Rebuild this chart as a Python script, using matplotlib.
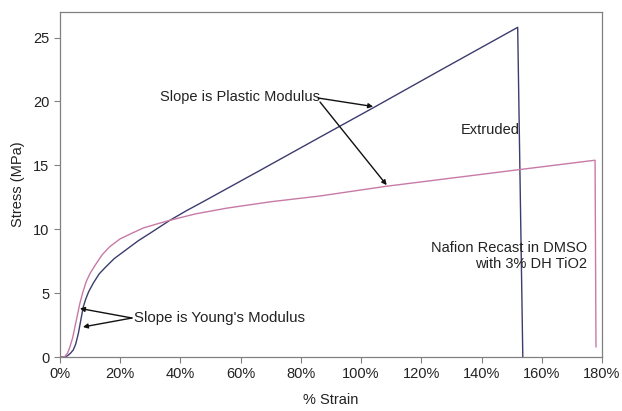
import matplotlib.pyplot as plt
from matplotlib.ticker import FuncFormatter

plt.rcParams['font.family'] = ['Liberation Sans', 'DejaVu Sans']

# strain in percent, stress in MPa
extruded_strain = [0, 1.5, 2.5, 3.5, 4.4, 5.2, 6.1, 7.0, 7.7, 8.5, 9.5, 11.1,
                   13, 15, 18, 22, 26, 30, 36.5, 42, 47.5, 66.4, 86.3, 104,
                   126, 152, 153.7]
extruded_stress = [0, 0, 0.1, 0.3, 0.55, 1.0, 1.85, 3.0, 3.9, 4.5, 5.1, 5.8,
                   6.5, 7.0, 7.7, 8.4, 9.1, 9.7, 10.7, 11.45, 12.15, 14.6,
                   17.2, 19.5, 22.4, 25.8, 0]

recast_strain = [0, 1.5, 2.5, 3.3, 4.2, 5.0, 5.8, 6.6, 7.5, 8.7, 10, 12, 14,
                 16.6, 20, 24, 27.7, 32, 36.5, 45, 55.4, 70, 86.3, 108, 130,
                 152, 177.7, 178]
recast_stress = [0, 0, 0.3, 0.8, 1.5, 2.4, 3.3, 4.2, 5.0, 5.9, 6.55, 7.3, 8.0,
                 8.65, 9.25, 9.7, 10.1, 10.4, 10.7, 11.2, 11.65, 12.15, 12.6,
                 13.35, 14.0, 14.65, 15.4, 0.8]

x_ticks = [0, 20, 40, 60, 80, 100, 120, 140, 160, 180]
y_ticks = [0, 5, 10, 15, 20, 25]

fig = plt.figure(figsize=(6.22, 4.11), dpi=100)
ax = fig.add_axes([60 / 622, 54 / 411, 542 / 622, 345 / 411])

ax.plot(extruded_strain, extruded_stress, color='#3c3c6e', lw=1.0)
ax.plot(recast_strain, recast_stress, color='#c77aa6', lw=1.0)

ax.set_xlim(0, 180)
ax.set_ylim(0, 27)
ax.set_xticks(x_ticks)
ax.set_yticks(y_ticks)
ax.xaxis.set_major_formatter(FuncFormatter(lambda v, p: f'{v:.0f}%'))
ax.tick_params(direction='out', length=4, width=0.8, color='#808080',
               labelsize=10.5, labelcolor='#222222')
for s in ax.spines.values():
    s.set_color('#808080')
    s.set_linewidth(0.9)

ax.set_xlabel('% Strain', fontsize=10.5, color='#222222', labelpad=8)
ax.set_ylabel('Stress (MPa)', fontsize=10.5, color='#222222', labelpad=6)

arrow = dict(arrowstyle='-|>', color='#111111', lw=1.0, mutation_scale=7,
             shrinkA=0, shrinkB=0)
tf = fig.transFigure

def fpt(x, y):
    return (x / 622, 1 - y / 411)

# young's modulus note
ax.text(*fpt(134, 318), "Slope is Young's Modulus", transform=tf,
        fontsize=10.8, va='center', ha='left', color='#222222')
ax.annotate('', xy=(6.6, 3.8), xytext=fpt(132, 318), textcoords=tf,
            arrowprops=arrow)
ax.annotate('', xy=(7.6, 2.35), xytext=fpt(132, 318), textcoords=tf,
            arrowprops=arrow)

# plastic modulus note
ax.text(*fpt(160, 97), 'Slope is Plastic Modulus', transform=tf,
        fontsize=10.5, va='center', ha='left', color='#222222')
ax.annotate('', xy=(104, 19.6), xytext=fpt(318, 98), textcoords=tf,
            arrowprops=arrow)
ax.annotate('', xy=(108.5, 13.45), xytext=fpt(320, 102), textcoords=tf,
            arrowprops=arrow)

ax.text(*fpt(461, 130), 'Extruded', transform=tf, fontsize=10.5,
        va='center', ha='left', color='#222222')
ax.text(*fpt(587, 256), 'Nafion Recast in DMSO\nwith 3% DH TiO2',
        transform=tf, fontsize=10.5, va='center', ha='right',
        color='#222222', linespacing=1.2)

fig.savefig('out.png', dpi=100)
